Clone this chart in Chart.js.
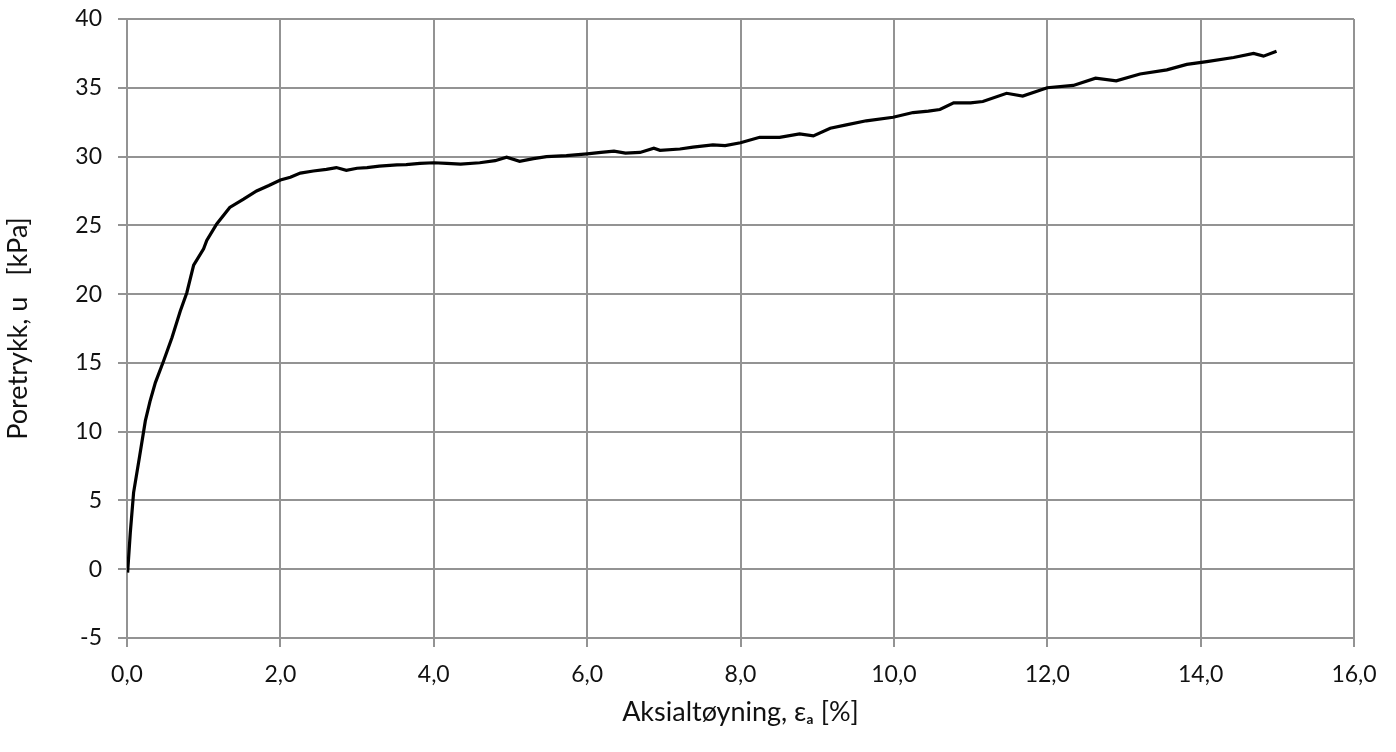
<!DOCTYPE html>
<html>
<head>
<meta charset="utf-8">
<title>Poretrykk</title>
<script src="https://cdn.jsdelivr.net/npm/chart.js@4/dist/chart.umd.min.js"></script>
<style>
  html, body { margin: 0; padding: 0; background: #fff; }
  #wrap { width: 1396px; height: 752px; }
</style>
</head>
<body>
<div id="wrap"><canvas id="poreChart" width="1396" height="752"></canvas></div>
<script>
// ==================== DATA ====================
var tojning = [
  0.008, 0.043, 0.086, 0.165, 0.239, 0.30, 0.37, 0.477, 0.587, 0.695,
  0.78, 0.869, 0.999, 1.04, 1.17, 1.34, 1.52, 1.69, 1.85, 2.0,
  2.13, 2.26, 2.43, 2.6, 2.73, 2.86, 3.0, 3.13, 3.29, 3.52,
  3.64, 3.82, 4.0, 4.17, 4.35, 4.6, 4.8, 4.95, 5.12, 5.3,
  5.47, 5.73, 6.0, 6.18, 6.35, 6.5, 6.69, 6.87, 6.95, 7.21,
  7.38, 7.64, 7.8, 8.0, 8.25, 8.51, 8.77, 8.95, 9.17, 9.38,
  9.64, 9.99, 10.25, 10.45, 10.6, 10.78, 11.0, 11.16, 11.47, 11.68,
  12.0, 12.34, 12.63, 12.9, 13.21, 13.56, 13.82, 14.08, 14.43, 14.69,
  14.82, 14.99
];
var poretrykk = [
  -0.24, 2.66, 5.57, 8.23, 10.78, 12.2, 13.57, 15.14, 16.84, 18.77,
  20.1, 22.1, 23.3, 23.9, 25.1, 26.3, 26.9, 27.5, 27.9, 28.3,
  28.5, 28.8, 28.95, 29.07, 29.2, 29.0, 29.15, 29.2, 29.3, 29.4,
  29.42, 29.5, 29.55, 29.5, 29.45, 29.55, 29.7, 29.95, 29.65, 29.85,
  30.0, 30.07, 30.2, 30.3, 30.4, 30.25, 30.3, 30.6, 30.45, 30.55,
  30.68, 30.85, 30.8, 31.0, 31.4, 31.4, 31.65, 31.5, 32.06, 32.3,
  32.6, 32.86, 33.2, 33.3, 33.42, 33.9, 33.9, 34.0, 34.6, 34.4,
  35.0, 35.17, 35.7, 35.5, 36.0, 36.3, 36.7, 36.9, 37.2, 37.5,
  37.3, 37.65
];
var xTittel = 'Aksialtøyning, εₐ [%]';
var yTittel = 'Poretrykk, u   [kPa]';

// ==================== HELPERS ====================
function lagPunkter(xs, ys) {
  var pts = [];
  for (var i = 0; i < xs.length; i++) pts.push({ x: xs[i], y: ys[i] });
  return pts;
}

function kommaTall(v) {
  return Number(v).toFixed(1).replace('.', ',');
}

// ==================== CHART ====================
var gridFarge = '#939393';
var tekstFarge = '#111';
var tickSkrift = { family: 'Lato, "Open Sans", sans-serif', size: 23 };
var tittelSkrift = { family: 'Lato, "Open Sans", sans-serif', size: 27 };

var ctx = document.getElementById('poreChart').getContext('2d');
var poreChart = new Chart(ctx, {
  type: 'scatter',
  data: {
    datasets: [{
      data: lagPunkter(tojning, poretrykk),
      showLine: true,
      borderColor: '#000',
      borderWidth: 3.2,
      pointRadius: 0,
      tension: 0
    }]
  },
  options: {
    responsive: false,
    animation: false,
    layout: { padding: { top: 19, right: 42, bottom: 0, left: 0 } },
    plugins: {
      legend: { display: false },
      tooltip: { enabled: false }
    },
    scales: {
      x: {
        type: 'linear',
        min: 0,
        max: 16,
        afterFit: function (s) { s.height = 114; },
        border: { display: false },
        grid: { color: gridFarge, lineWidth: 2, tickLength: 9, drawTicks: true },
        ticks: {
          stepSize: 2,
          padding: 14,
          color: tekstFarge,
          font: tickSkrift,
          maxRotation: 0,
          callback: function (v) { return kommaTall(v); }
        },
        title: {
          display: true,
          text: xTittel,
          color: tekstFarge,
          font: tittelSkrift,
          padding: { top: 0, bottom: 24 }
        }
      },
      y: {
        type: 'linear',
        min: -5,
        max: 40,
        afterFit: function (s) {
          s.width = 127;
          // ikke la tick-padding skyve plottet ned
          s.paddingTop = 0;
          s.paddingBottom = 0;
        },
        border: { display: false },
        grid: { color: gridFarge, lineWidth: 2, tickLength: 9, drawTicks: true },
        ticks: {
          stepSize: 5,
          padding: 16,
          color: tekstFarge,
          font: tickSkrift
        },
        title: {
          display: true,
          text: yTittel,
          color: tekstFarge,
          font: tittelSkrift,
          padding: { top: 2, bottom: 0 }
        }
      }
    }
  }
});
</script>
</body>
</html>
